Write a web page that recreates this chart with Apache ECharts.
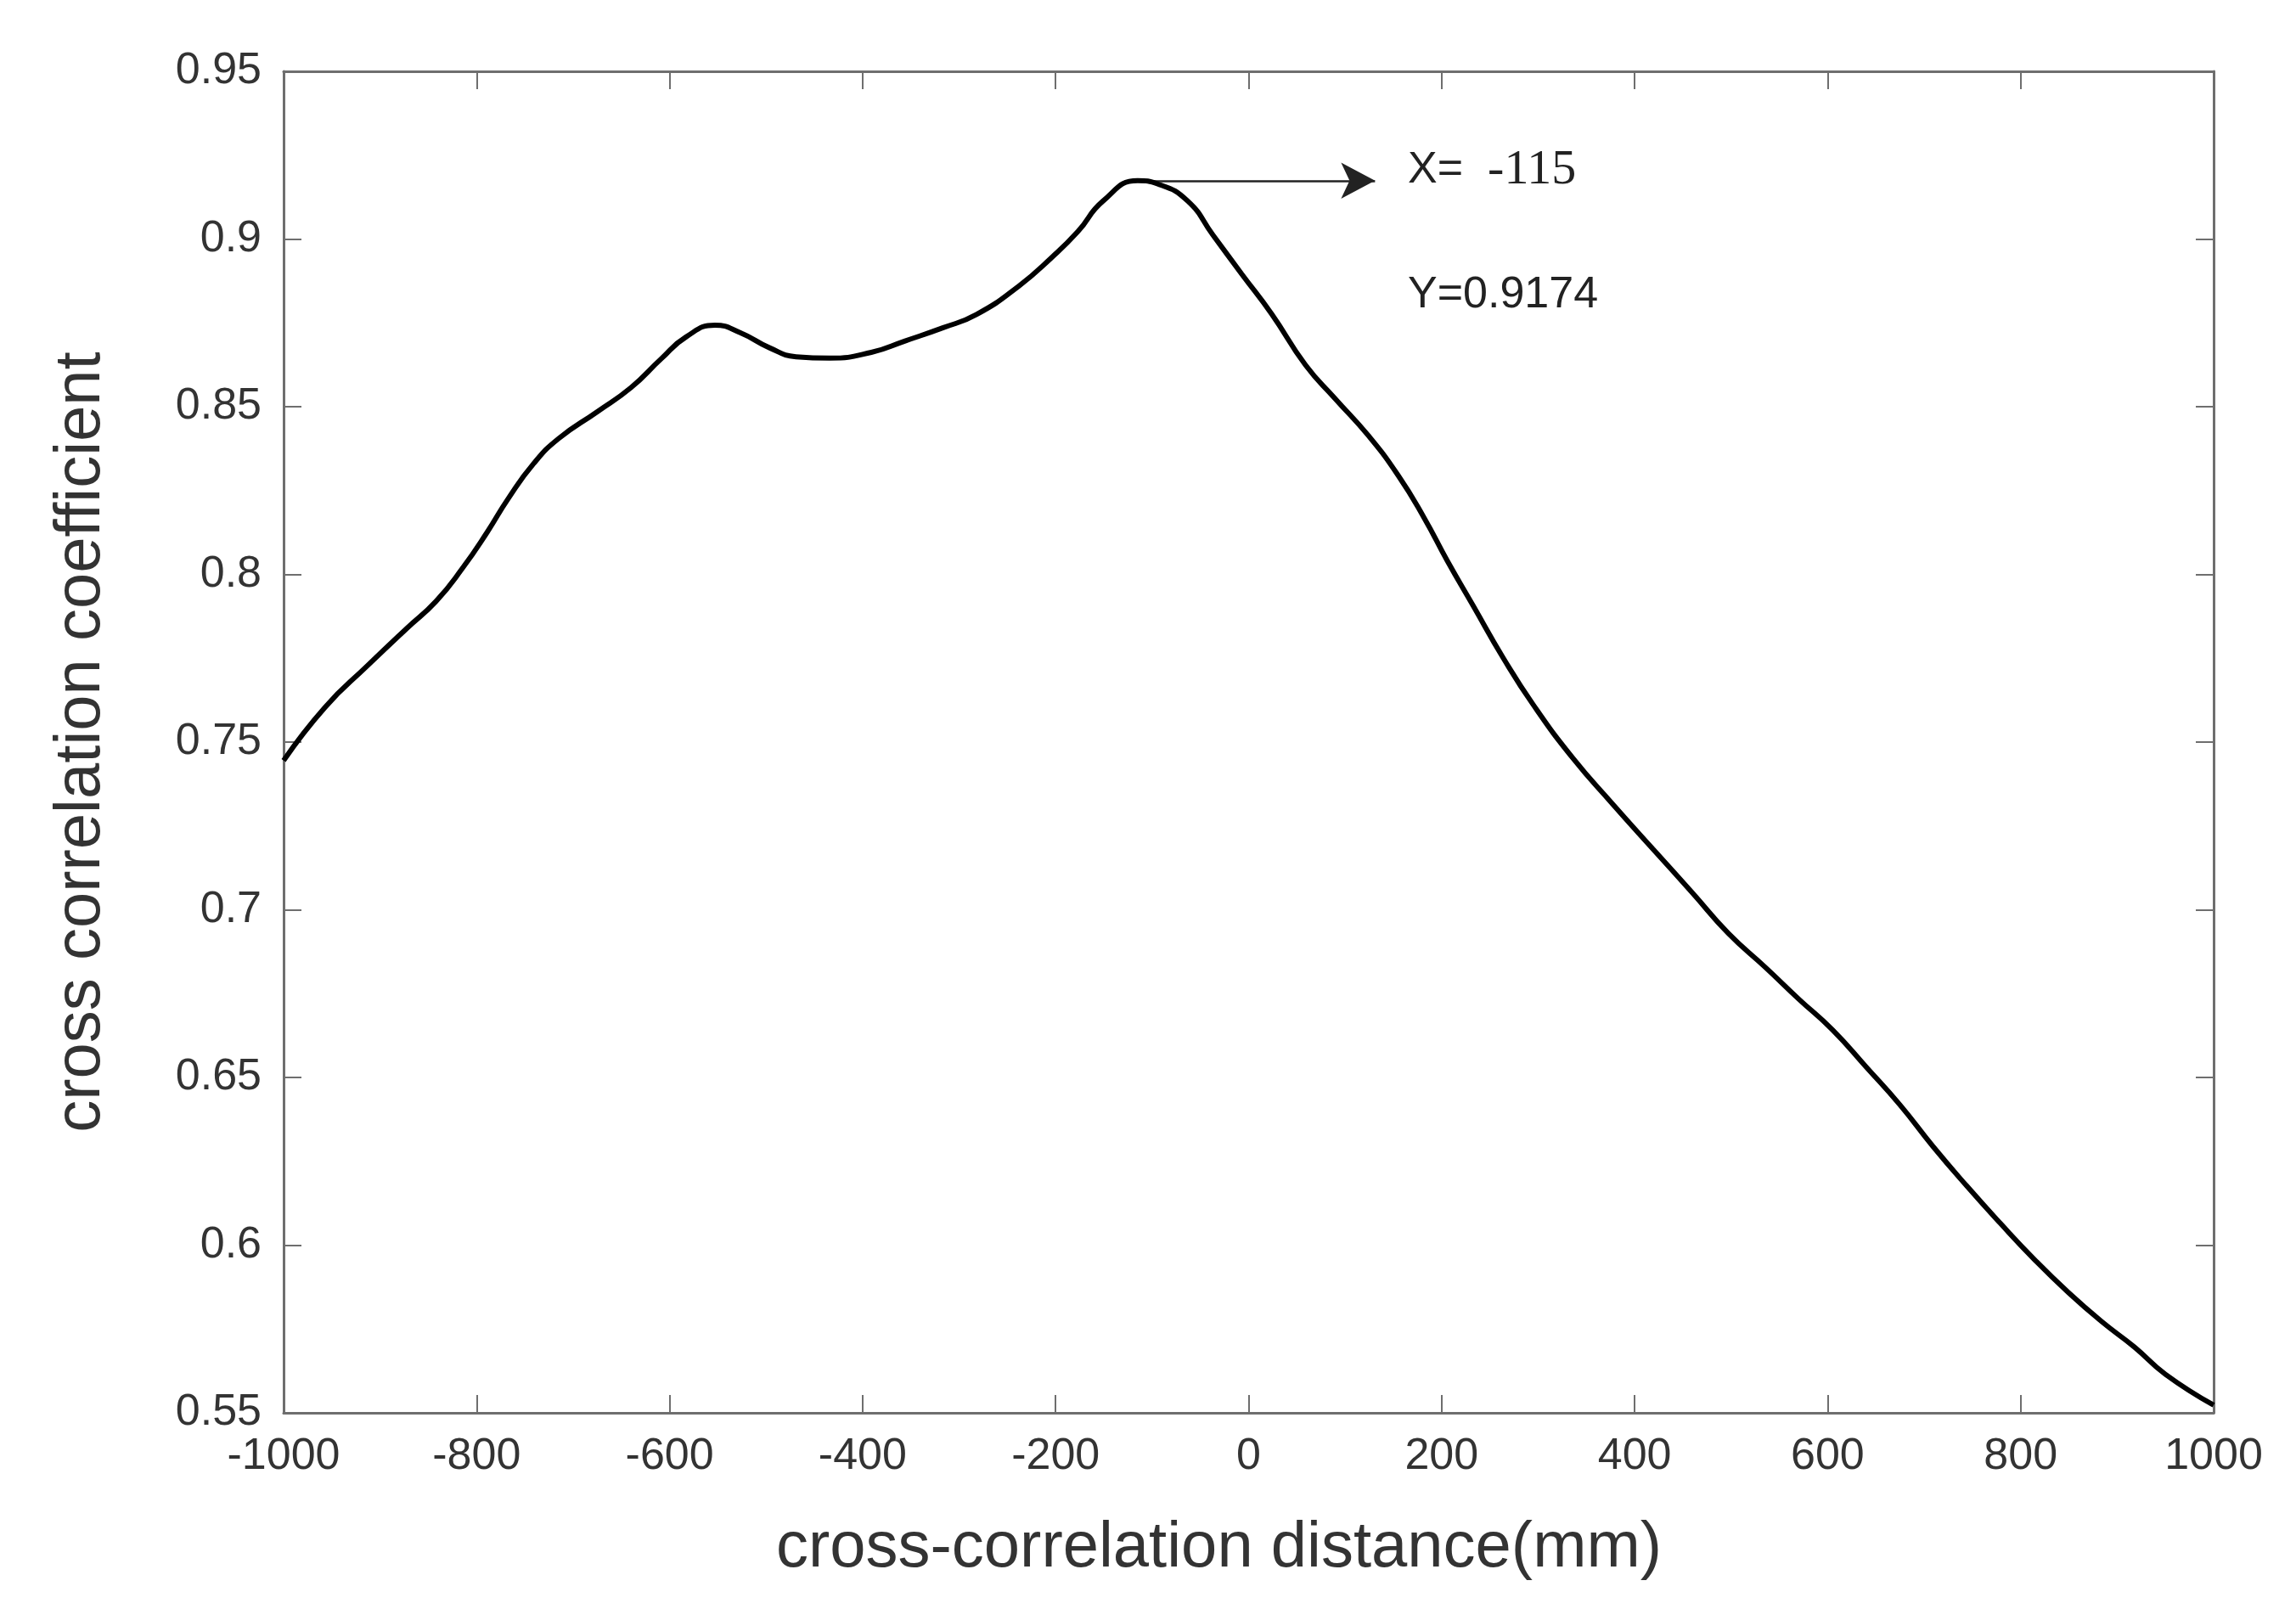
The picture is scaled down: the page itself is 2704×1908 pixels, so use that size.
<!DOCTYPE html>
<html>
<head>
<meta charset="utf-8">
<script src="https://cdn.jsdelivr.net/npm/echarts@6/dist/echarts.min.js"></script>
<style>
html,body{margin:0;padding:0;background:#fff;}
#chart{width:2704px;height:1908px;}
</style>
</head>
<body>
<div id="chart"></div>
<script>
// ---- data ----
const distances = [-1000,-957,-913,-872,-842,-815,-789,-767,-741,-715,-675,-640,-609,-583,-553,-527,-496,-469,-434,-391,-356,-317,-282,-238,-204,-177,-151,-115,-94,-63,-37,-7,24,59,90,124,155,182,206,233,264,295,336,377,419,460,497,536,570,605,640,675,709,744,779,814,849,884,918,950,1000];
const coefficients = [0.7445,0.7604,0.7728,0.7840,0.7920,0.8017,0.8126,0.8227,0.8330,0.8405,0.8485,0.8557,0.8642,0.8708,0.8743,0.8721,0.8675,0.8649,0.8645,0.8662,0.8696,0.8735,0.8775,0.8860,0.8945,0.9022,0.9113,0.9174,0.9164,0.9113,0.9012,0.8895,0.8776,0.8624,0.8523,0.8414,0.8295,0.8168,0.8040,0.7905,0.7750,0.7611,0.7452,0.7316,0.7181,0.7050,0.6930,0.6827,0.6734,0.6642,0.6531,0.6418,0.6295,0.6177,0.6065,0.5958,0.5860,0.5772,0.5696,0.5615,0.5523];
const xTicks = [-1000,-800,-600,-400,-200,0,200,400,600,800,1000];
const yTicks = [0.55,0.6,0.65,0.7,0.75,0.8,0.85,0.9,0.95];
const peakX = -115;
const peakY = 0.9174;
const xLabel = 'cross-correlation distance(mm)';
const yLabel = 'cross correlation coefficient';
const annoX = 'X=';
const annoXVal = '-115';
const annoY = 'Y=0.9174';

// ---- chart ----
const seriesData = distances.map((d, i) => [d, coefficients[i]]);
const arrowEndX = 131;
const textX = 165;

const axisColor = '#6e6e6e';
const labelColor = '#333';
const sans = '"Liberation Sans", Arial, Helvetica, sans-serif';
const serif = '"Liberation Serif", "Times New Roman", serif';

const xBase = {
  type: 'value', min: xTicks[0], max: xTicks[xTicks.length - 1], interval: xTicks[1] - xTicks[0],
  splitLine: {show: false},
  axisLine: {show: true, onZero: false, lineStyle: {color: axisColor, width: 3}},
  axisTick: {show: true, inside: true, length: 21, lineStyle: {color: axisColor, width: 2}}
};
const yBase = {
  type: 'value', min: yTicks[0], max: yTicks[yTicks.length - 1], interval: 0.05,
  splitLine: {show: false},
  axisLine: {show: true, onZero: false, lineStyle: {color: axisColor, width: 3}},
  axisTick: {show: true, inside: true, length: 21, lineStyle: {color: axisColor, width: 2}}
};

const chart = echarts.init(document.getElementById('chart'), null, {renderer: 'canvas'});
chart.setOption({
  animation: false,
  backgroundColor: '#fff',
  grid: {left: 334, right: 97, top: 84, bottom: 244, containLabel: false},
  xAxis: [
    Object.assign({}, xBase, {
      position: 'bottom',
      axisLabel: {show: true, color: labelColor, fontFamily: sans, fontSize: 52, margin: 26,
        formatter: v => String(v)},
      name: xLabel, nameLocation: 'middle', nameGap: 122,
      nameTextStyle: {color: labelColor, fontFamily: sans, fontSize: 76, padding: [0, 70, 0, 0]}
    }),
    Object.assign({}, xBase, {position: 'top', axisLabel: {show: false}})
  ],
  yAxis: [
    Object.assign({}, yBase, {
      position: 'left',
      axisLabel: {show: true, color: labelColor, fontFamily: sans, fontSize: 52, margin: 26,
        formatter: v => String(Math.round(v * 100) / 100)},
      name: yLabel, nameLocation: 'middle', nameGap: 200,
      nameTextStyle: {color: labelColor, fontFamily: sans, fontSize: 76}
    }),
    Object.assign({}, yBase, {position: 'right', axisLabel: {show: false}})
  ],
  series: [{
    type: 'line',
    data: seriesData,
    smooth: 0.5,
    showSymbol: false,
    symbol: 'none',
    lineStyle: {color: '#000', width: 6},
    z: 5,
    markLine: {
      silent: true,
      symbol: ['none', 'arrow'],
      symbolSize: [32, 40],
      label: {show: false},
      lineStyle: {color: '#222', width: 2.5, type: 'solid', opacity: 1},
      data: [[{coord: [peakX, peakY]}, {coord: [arrowEndX, peakY]}]],
      z: 4
    },
    markPoint: {
      silent: true,
      symbol: 'circle',
      symbolSize: 0,
      data: [
        {coord: [textX, 0.9205], label: {show: true, position: 'right', distance: 0,
          formatter: '{a|' + annoX + '}{b|  ' + annoXVal + '}',
          rich: {a: {fontFamily: sans, fontSize: 52, color: '#222'}, b: {fontFamily: serif, fontSize: 58, color: '#222'}}}},
        {coord: [textX, 0.8832], label: {show: true, position: 'right', distance: 0,
          formatter: annoY, fontFamily: sans, fontSize: 52, color: '#222'}}
      ]
    }
  }]
});
</script>
</body>
</html>
